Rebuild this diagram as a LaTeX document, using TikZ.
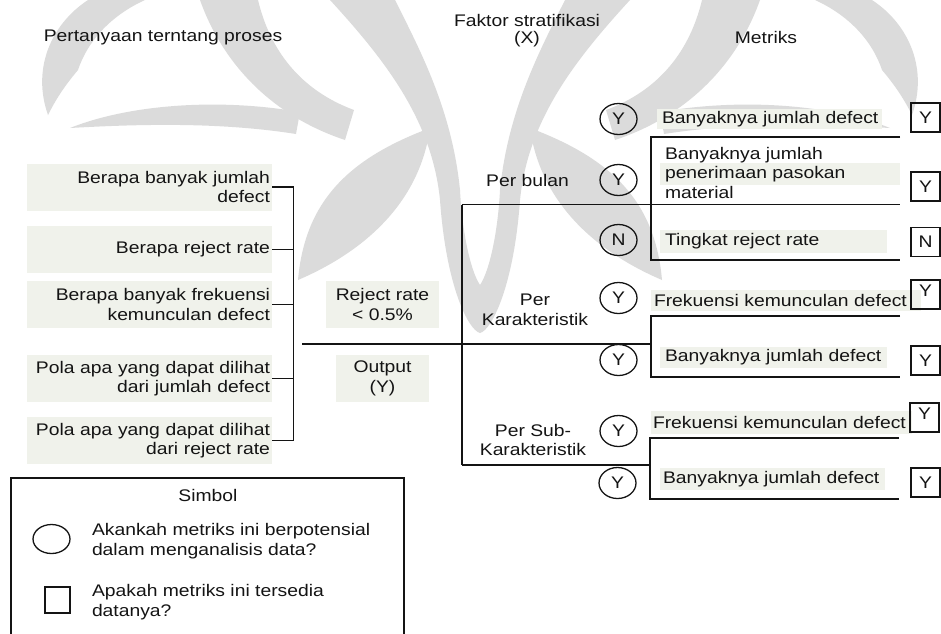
\documentclass[tikz,border=0pt]{standalone}
\usepackage{fontspec}
\setmainfont{Liberation Sans}[FakeStretch=1.15]
\usetikzlibrary{shapes.geometric}
\definecolor{boxfill}{RGB}{240,242,235}
\definecolor{ink}{RGB}{20,20,20}
\definecolor{emblem}{RGB}{219,219,219}

% one half of the faint background emblem
\newcommand{\emblemhalf}{%
  % outer tendril
  \fill[emblem] (88,0) .. controls (50,25) and (32,70) .. (48,115)
    .. controls (58,95) and (68,82) .. (78,70)
    .. controls (88,40) and (112,15) .. (145,0) -- cycle;
  % sweeping wing
  \fill[emblem] (200,0) .. controls (222,62) and (270,115) .. (345,140)
    -- (354,110) .. controls (300,90) and (270,50) .. (258,0) -- cycle;
  % band under the heading
  \fill[emblem] (70,128) .. controls (130,104) and (220,98) .. (300,112)
    -- (296,134) .. controls (220,122) and (140,124) .. (70,128) -- cycle;
  % leaf
  \fill[emblem] (298,280) .. controls (305,200) and (350,158) .. (430,128)
    .. controls (420,200) and (368,250) .. (298,280) -- cycle;
  % central arm meeting the axis
  \fill[emblem] (330,0) .. controls (385,60) and (432,120) .. (440,200)
    .. controls (446,285) and (468,330) .. (480,333) -- (480,285)
    .. controls (470,270) and (462,230) .. (460,190)
    .. controls (452,110) and (420,50) .. (395,0) -- cycle;
}

\begin{document}
\begin{tikzpicture}[x=1pt,y=-1pt,
  every node/.style={font=\fontsize{16.8}{19.5}\selectfont, text=ink, inner sep=0pt, outer sep=0pt},
  ln/.style={draw=ink, line width=1.6pt},
  qbox/.style={fill=boxfill, minimum height=47pt, text width=241pt, align=right, inner xsep=2pt},
  midbox/.style={fill=boxfill, minimum height=47pt, align=center},
  metric/.style={fill=boxfill, anchor=west, align=left},
  ring/.style={ellipse, draw=ink, line width=1.3pt, minimum width=37pt, minimum height=31pt},
  sq/.style={draw=ink, line width=1.3pt, minimum width=29pt, minimum height=29pt},
]
\useasboundingbox (0,0) rectangle (941,633);

% faint emblem in the background, mirrored about x = 480
\emblemhalf
\begin{scope}[cm={-1,0,0,1,(960,0)}]
  \emblemhalf
\end{scope}

% column headings
\node (h1) at (163,37) {Pertanyaan terntang proses};
\node[align=center, font=\fontsize{16.8}{17}\selectfont] (h2) at (527,30.5) {Faktor stratifikasi\\(X)};
\node (h3) at (766,37) {Metriks};

% questions about the process
\node[qbox] (q1) at (149.5,187)   {Berapa banyak jumlah\\defect};
\node[qbox] (q2) at (149.5,249.5) {Berapa reject rate};
\node[qbox] (q3) at (149.5,304.5) {Berapa banyak frekuensi\\kemunculan defect};
\node[qbox] (q4) at (149.5,378.5) {Pola apa yang dapat dilihat\\dari jumlah defect};
\node[qbox] (q5) at (149.5,440.5) {Pola apa yang dapat dilihat\\dari reject rate};

% target and output
\node[midbox, minimum width=113pt] (rr) at (382.5,304.5) {Reject rate\\< 0.5\%};
\node[midbox, minimum width=93pt]  (out) at (382.5,378.5) {Output\\(Y)};

% stratification factors
\node (f1) at (527.5,180) {Per bulan};
\node[align=center] (f2) at (535,310) {Per\\Karakteristik};
\node[align=center] (f3) at (533,440) {Per Sub-\\Karakteristik};

% metric labels
\node[metric, inner xsep=5pt, text width=215pt, minimum height=20pt] (m1) at (657,119) {\mbox{Banyaknya jumlah defect}};
\node[fill=boxfill, anchor=west, minimum width=240pt, minimum height=22pt] (m2bg) at (660,174) {};
\node[anchor=west, align=left] (m2) at (665,172.5) {Banyaknya jumlah\\penerimaan pasokan\\material};
\node[metric, inner xsep=5pt, text width=217pt, minimum height=23pt] (m3) at (660,241.5) {\mbox{Tingkat reject rate}};
\node[metric, inner xsep=3pt, text width=264pt, minimum height=21pt] (m4) at (651,300.5) {\mbox{Frekuensi kemunculan defect}};
\node[metric, inner xsep=5pt, text width=217pt, minimum height=21pt] (m5) at (660,357.5) {\mbox{Banyaknya jumlah defect}};
\node[metric, inner xsep=2pt, text width=257pt, minimum height=23pt] (m6) at (651,422.5) {\mbox{Frekuensi kemunculan defect}};
\node[metric, inner xsep=3pt, text width=219pt, minimum height=22pt] (m7) at (660,479) {\mbox{Banyaknya jumlah defect}};

% potential for analysis (circles)
\node[ring] (c1) at (618.5,119) {Y};
\node[ring] (c2) at (618.5,180) {Y};
\node[ring] (c3) at (618.5,240) {N};
\node[ring] (c4) at (618.5,298) {Y};
\node[ring] (c5) at (618.5,360) {Y};
\node[ring] (c6) at (618.5,431) {Y};
\node[ring] (c7) at (617.5,483) {Y};

% data availability (squares)
\node[sq] (s1) at (925.5,117.5) {Y};
\node[sq] (s2) at (925.5,186.5) {Y};
\node[sq] (s3) at (925.5,242) {N};
\node[sq] (s4) at (925.5,294.5) {};
\node[anchor=north] (s4y) at ([yshift=-5pt]s4.north) {Y};
\node[sq] (s5) at (925.5,360.5) {Y};
\node[sq] (s6) at (924.5,417.5) {};
\node[anchor=north] (s6y) at ([yshift=-5pt]s6.north) {Y};
\node[sq] (s7) at (925.5,482.5) {Y};

% junction points
\coordinate (bT) at (293.5,187);
\coordinate (bB) at (293.5,440.5);
\coordinate (tL) at (302,344);
\coordinate (tR) at (651,344);
\coordinate (vT) at (462,204.5);
\coordinate (vB) at (462,465);
\coordinate (pE) at (900,204.5);
\coordinate (g1T) at (651,137);
\coordinate (g1B) at (651,260);
\coordinate (g1Te) at (900,137);
\coordinate (g1Be) at (900,260);
\coordinate (g2T) at (651,316);
\coordinate (g2B) at (651,377);
\coordinate (g2Te) at (900,316);
\coordinate (g2Be) at (900,377);
\coordinate (g3M) at (650,465);
\coordinate (g3T) at (650,438);
\coordinate (g3B) at (650,499);
\coordinate (g3Te) at (899,438);
\coordinate (g3Be) at (899,499);

% questions bracket
\draw[ln] (q1.east) -- (bT) -- (bB) -- (q5.east);
\draw[ln] (q2.east) -- (q2.east -| bT);
\draw[ln] (q3.east) -- (q3.east -| bT);
\draw[ln] (q4.east) -- (q4.east -| bT);

% trunk and factor branches
\draw[ln] (tL) -- (tR);
\draw[ln] (vT) -- (vB);
\draw[ln] (vT) -- (pE);
\draw[ln] (vB) -- (g3M);

% metric brackets
\draw[ln] (g1Te) -- (g1T) -- (g1B) -- (g1Be);
\draw[ln] (g2Te) -- (g2T) -- (g2B) -- (g2Be);
\draw[ln] (g3Te) -- (g3T) -- (g3B) -- (g3Be);

% legend
\node[draw=ink, line width=1.6pt, anchor=north west, minimum width=393pt, minimum height=200pt] (leg) at (11,478) {};
\node (legt) at (208,495) {Simbol};
\node[ring, minimum height=29pt] (lc) at (51.5,539) {};
\node[anchor=west, align=left] (lct) at (92,541) {Akankah metriks ini berpotensial\\dalam menganalisis data?};
\node[sq, minimum width=25pt, minimum height=26pt] (ls) at (57.5,600) {};
\node[anchor=west, align=left] (lst) at (92,602) {Apakah metriks ini tersedia\\datanya?};
\end{tikzpicture}
\end{document}
